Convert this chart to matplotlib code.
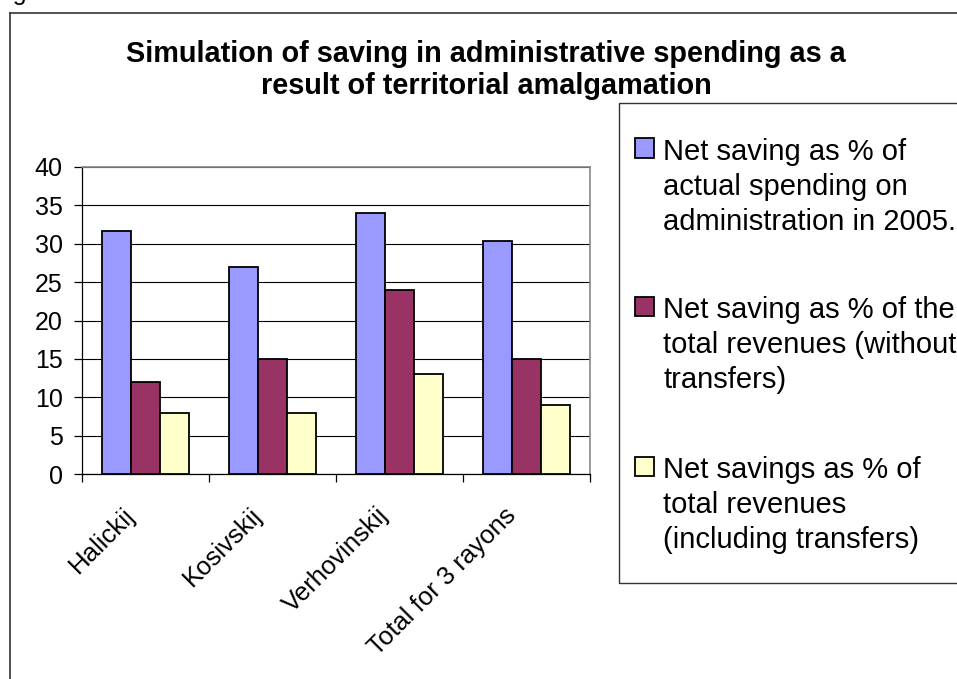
import numpy as np
import matplotlib
matplotlib.use('Agg')
import matplotlib.pyplot as plt
from matplotlib.patches import Rectangle
from matplotlib.lines import Line2D
from matplotlib.transforms import ScaledTranslation

plt.rcParams['font.family'] = ['Liberation Sans', 'DejaVu Sans']

# data
rayons = ['Halickij', 'Kosivskij', 'Verhovinskij', 'Total for 3 rayons']
pct_admin_spending = [31.7, 27.0, 34.0, 30.4]
pct_rev_no_transfers = [12.0, 15.0, 24.0, 15.0]
pct_rev_with_transfers = [8.0, 8.0, 13.0, 9.0]
series_labels = ['Net saving as % of\nactual spending on\nadministration in 2005.',
                 'Net saving as % of the\ntotal revenues (without\ntransfers)',
                 'Net savings as % of\ntotal revenues\n(including transfers)']
colors = ['#9999FF', '#993366', '#FFFFCC']
title = 'Simulation of saving in administrative spending as a\nresult of territorial amalgamation'

W, H = 957, 679
fig = plt.figure(figsize=(W / 100, H / 100), dpi=100)

def fx(px):
    return px / W

def fy(px):
    return 1 - px / H

# outer frame of the figure (cut off on right and bottom)
fig.add_artist(Line2D([fx(10), fx(10)], [0, fy(13)], color='#333333', lw=1.2))
fig.add_artist(Line2D([fx(10), 1], [fy(13), fy(13)], color='#333333', lw=1.2))
# tail of the cropped caption above the frame
fig.text(fx(-8), 1.0, 'Figure', fontsize=18, va='baseline', ha='left')

ax = fig.add_axes([fx(82), fy(474), fx(590) - fx(82), fy(167) - fy(474)])
x = np.arange(len(rayons))
w = 0.226
series = [pct_admin_spending, pct_rev_no_transfers, pct_rev_with_transfers]
for k, vals in enumerate(series):
    ax.bar(x + (k - 1) * w, vals, width=w, color=colors[k], edgecolor='black',
           linewidth=1.3, zorder=3)

ax.set_xlim(-0.5, len(rayons) - 0.5)
ax.set_ylim(0, 40)
ax.set_yticks(np.arange(0, 41, 5))
ax.yaxis.grid(True, color='black', lw=0.8, zorder=0)
ax.set_axisbelow(True)
for s in ['top', 'right']:
    ax.spines[s].set_color('#888888')
    ax.spines[s].set_linewidth(1.2)
for s in ['left', 'bottom']:
    ax.spines[s].set_color('black')
    ax.spines[s].set_linewidth(0.9)

ax.set_xticks(x)
ax.set_xticks(np.arange(-0.5, len(rayons)), minor=True)
ax.set_xticklabels(rayons, rotation=45, ha='right', va='top', fontsize=18.5)
ax.tick_params(axis='x', which='major', length=0, pad=21)
ax.tick_params(axis='x', which='minor', length=6, width=0.9, direction='out')
ax.tick_params(axis='y', length=6, width=0.9, direction='out', labelsize=18, pad=8)
off = ScaledTranslation(-6 / 100, 0, fig.dpi_scale_trans)
for lab in ax.get_xticklabels():
    lab.set_transform(lab.get_transform() + off)

fig.text(fx(486), fy(94), title, ha='center', va='baseline', fontsize=20.8,
         fontweight='bold', linespacing=1.17)

# legend box (extends past right edge like the original)
fig.add_artist(Rectangle((fx(619), fy(583)), 1.2, fy(103) - fy(583),
                         transform=fig.transFigure, fill=False,
                         edgecolor='#333333', lw=1.0))
entry_y = [148, 306, 466]
for k, lab in enumerate(series_labels):
    cy = entry_y[k]
    fig.add_artist(Rectangle((fx(635), fy(cy + 9.5)), fx(19), fy(cy - 9.5) - fy(cy + 9.5),
                             transform=fig.transFigure, facecolor=colors[k],
                             edgecolor='black', lw=1.3))
    # baseline of the last of the three lines
    fig.text(fx(663), fy(cy + 10 + 2 * 36), lab, fontsize=21, va='baseline', ha='left',
             linespacing=1.32)

fig.savefig('out.png', dpi=100)
